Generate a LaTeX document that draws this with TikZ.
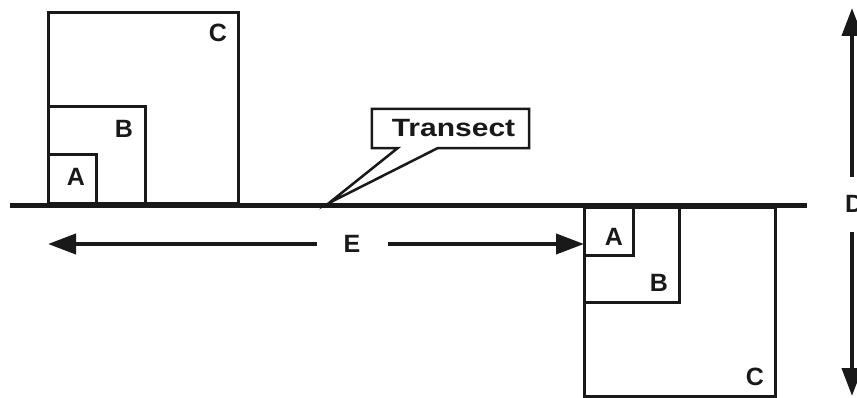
\documentclass[tikz,border=0pt]{standalone}
\usepackage{fontspec}
\setmainfont{Liberation Sans}
\newfontfamily\widesans[FakeStretch=1.2]{Liberation Sans}
\usetikzlibrary{arrows.meta}
\begin{document}
\begin{tikzpicture}[x=1pt,y=-1pt,
  box/.style={draw=black!90, line width=3pt, inner sep=0pt, outer sep=0pt, minimum width=#1},
  lbl/.style={font=\fontsize{25}{30}\selectfont\bfseries, text=black!90, inner sep=0pt},
  dimarrow/.style={draw=black!90, line width=4pt, -{Triangle[length=28pt,width=20pt]}},
]
\useasboundingbox (0,0) rectangle (857,398);
% transect line
\coordinate (t0) at (10,206);
\coordinate (t1) at (807,206);
\draw[line width=5pt, black!90] (t0) -- (t1);
% left squares
\node[box=190, minimum height=191, anchor=south west] (lC) at (48,204) {};
\node[box=97, minimum height=97, anchor=south west] (lB) at (48,204) {};
\node[box=48, minimum height=49, anchor=south west] (lA) at (48,204) {};
\node[lbl] (lCl) at (218,33) {C};
\node[lbl] (lBl) at (124,129) {B};
\node[lbl] (lAl) at (76,177) {A};
% right squares
\node[box=191, minimum height=188, anchor=north west] (rC) at (584,208) {};
\node[box=95, minimum height=94, anchor=north west] (rB) at (584,208) {};
\node[box=49, minimum height=48, anchor=north west] (rA) at (584,208) {};
\node[lbl] (rAl) at (614,237) {A};
\node[lbl] (rBl) at (659,283) {B};
\node[lbl] (rCl) at (755,377) {C};
% transect callout
\node[minimum width=157, minimum height=39, inner sep=0pt] (tr) at (450.5,128.5) {};
\coordinate (tip) at (329,203);
\draw[line width=2.5pt, black!90, fill=white, line join=miter]
  (tr.north west) -- (tr.north east) -- (tr.south east) -- ([xshift=-13pt]tr.south)
  -- (tip) -- ([xshift=-53pt]tr.south) -- (tr.south west) -- cycle;
\node[lbl, font=\fontsize{25}{30}\selectfont\widesans\bfseries] (trl) at ([xshift=3pt]tr.center) {Transect};
% E dimension
\node[lbl] (E) at (352,244) {E};
\coordinate (eL) at (lA.west |- E);
\coordinate (eR) at (rA.west |- E);
\draw[dimarrow] (E.west) ++(-26pt,0) -- (eL);
\draw[dimarrow] (E.east) ++(27pt,0) -- (eR);
% D dimension
\node[lbl, anchor=west] (D) at (845,204) {D};
\coordinate (dT) at (852,8);
\coordinate (dB) at (852,396);
\draw[dimarrow] (852,177) -- (dT);
\draw[dimarrow] (852,232) -- (dB);
\end{tikzpicture}
\end{document}
